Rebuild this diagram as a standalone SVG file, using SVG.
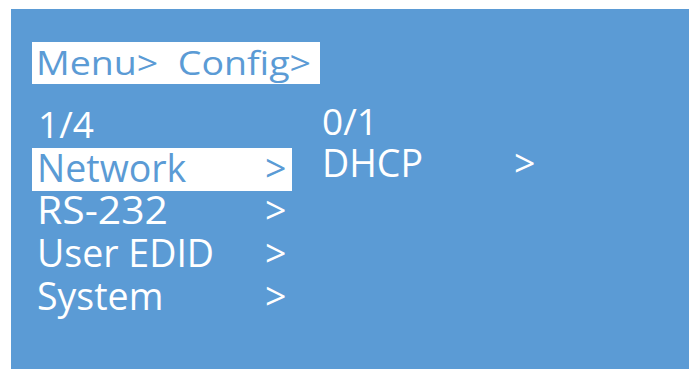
<svg xmlns="http://www.w3.org/2000/svg" width="689" height="369" viewBox="0 0 689 369">
  <style>
    .screen { fill: #5b9bd5; }
    .hl { fill: #ffffff; }
    .t { font-family: "Open Sans", "DejaVu Sans", sans-serif; fill: #ffffff; }
    .inv { fill: #5b9bd5; }
    .item { font-size: 37.5px; }
  </style>
  <rect x="0" y="0" width="689" height="369" fill="#ffffff"/>
  <rect class="screen" x="11" y="9" width="678" height="360"/>

  <g id="header">
    <rect class="hl" x="32" y="42" width="288" height="42"/>
    <text class="t inv" x="36" y="75" font-size="33" textLength="275" lengthAdjust="spacingAndGlyphs" xml:space="preserve">Menu>  Config></text>
  </g>

  <g id="page-left">
    <text class="t" x="38" y="138" font-size="37">1/4</text>
  </g>

  <g id="item-network">
    <rect class="hl" x="32" y="148" width="260" height="43"/>
    <text class="t inv item" x="37" y="182">Network</text>
    <text class="t inv item" x="265" y="182">&gt;</text>
  </g>

  <g id="item-rs232">
    <text class="t item" x="37" y="224" textLength="131" lengthAdjust="spacingAndGlyphs">RS-232</text>
    <text class="t item" x="265" y="224">&gt;</text>
  </g>

  <g id="item-user-edid">
    <text class="t item" x="37" y="267">User EDID</text>
    <text class="t item" x="265" y="267">&gt;</text>
  </g>

  <g id="item-system">
    <text class="t item" x="37" y="310">System</text>
    <text class="t item" x="265" y="310">&gt;</text>
  </g>

  <g id="page-right">
    <text class="t" x="322" y="135" font-size="37">0/1</text>
  </g>

  <g id="item-dhcp">
    <text class="t item" x="322" y="177">DHCP</text>
    <text class="t item" x="514" y="177">&gt;</text>
  </g>

  <g id="connectors"></g>
</svg>
